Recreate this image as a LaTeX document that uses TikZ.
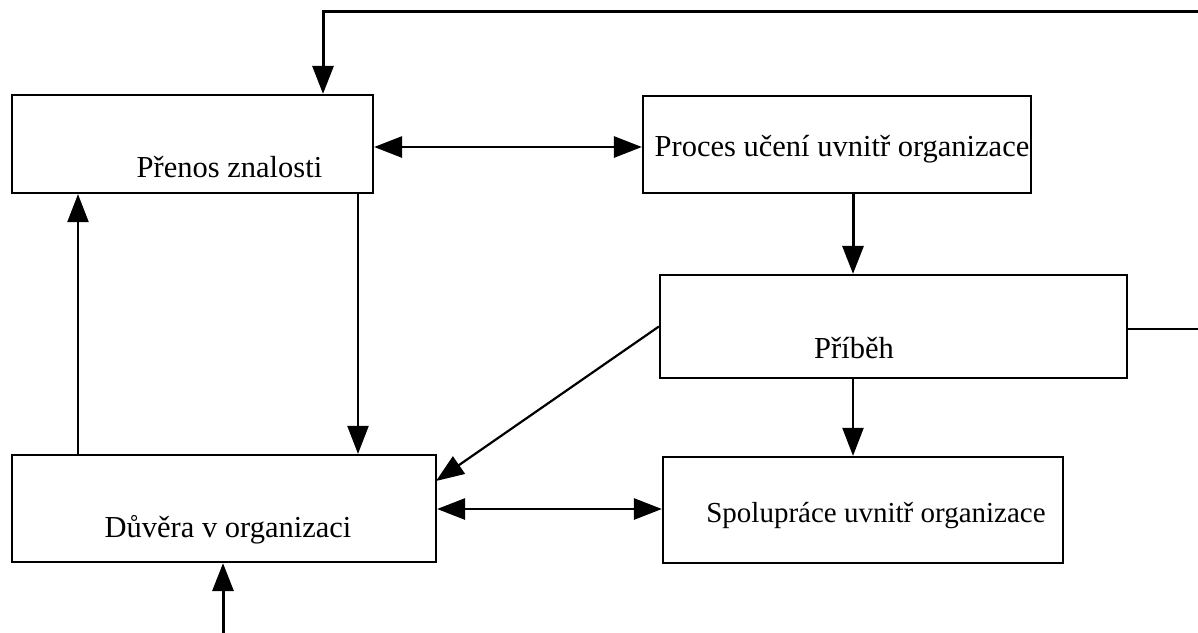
\documentclass[tikz,border=0pt]{standalone}
\usepackage{fontspec}
\setmainfont{Liberation Serif}
\usetikzlibrary{arrows.meta,calc}
\begin{document}
\begin{tikzpicture}[x=1pt,y=-1pt,
  box/.style={draw,line width=2.2pt,rectangle,inner sep=0pt},
  txt/.style={font=\fontsize{30.5}{36}\selectfont,inner sep=0pt,anchor=base},
  tip/.tip={Triangle[length=28pt,width=21pt]},
  thick arrow/.style={line width=3pt,-tip},
  thin arrow/.style={line width=2.2pt,-tip},
  dbl arrow/.style={line width=2.8pt,tip-tip}]
\useasboundingbox (0,0) rectangle (1198,632);
% boxes
\node[box,minimum width=361pt,minimum height=98pt] (A) at (192.5,144) {};
\node[txt] (At) at (229.5,177) {Přenos znalosti};
\node[box,minimum width=388pt,minimum height=97pt] (B) at (837,144.5) {};
\node[txt] (Bt) at (842,156) {Proces učení uvnitř organizace};
\node[box,minimum width=467pt,minimum height=103pt] (C) at (893.5,326.5) {};
\node[txt] (Ct) at (854,358) {Příběh};
\node[box,minimum width=424pt,minimum height=107pt] (D) at (224,508.5) {};
\node[txt] (Dt) at (228,537) {Důvěra v organizaci};
\node[box,minimum width=400pt,minimum height=106pt] (E) at (863,510) {};
\node[txt,font=\fontsize{29}{34}\selectfont] (Et) at (876,522) {Spolupráce uvnitř organizace};
% coordinates
\coordinate (topL) at (323,11);
\coordinate (topR) at (1200,11);
\coordinate (Cr) at (1200,329);
\coordinate (Cl) at (C.west);
\coordinate (Din) at (436,481);
\coordinate (bot) at (223,634);
% connectors
\draw[thick arrow] (topR) -- (topL) -- (topL |- A.north);
\draw[dbl arrow] (A.east |- 0,147) -- (B.west |- 0,147);
\draw[thick arrow] (853,0 |- B.south) -- (853,0 |- C.north);
\draw[line width=2.2pt] (C.east |- Cr) -- (Cr);
\draw[thin arrow] (Cl) -- (Din);
\draw[thin arrow] (853,0 |- C.south) -- (853,0 |- E.north);
\draw[dbl arrow] (D.east |- 0,509) -- (E.west |- 0,509);
\draw[thin arrow] (358,0 |- A.south) -- (358,0 |- D.north);
\draw[thin arrow] (78,0 |- D.north) -- (78,0 |- A.south);
\draw[thick arrow] (bot) -- (bot |- D.south);
\end{tikzpicture}
\end{document}
